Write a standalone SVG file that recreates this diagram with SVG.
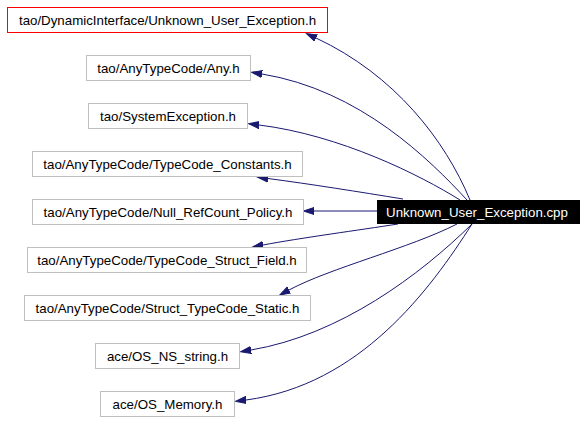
<svg xmlns="http://www.w3.org/2000/svg" width="587" height="421" viewBox="0 0 587 421">
<style>
.n rect{fill:#fff;stroke:#bfbfbf;stroke-width:1}
.n text{font-family:"Liberation Sans",Arial,sans-serif;font-size:13.3px;fill:#000;text-anchor:middle}
#n1 rect{stroke:#ff0000}
#main rect{fill:#000;stroke:#000}
#main text{fill:#fff}
.e path{fill:none;stroke:#191970;stroke-width:1;marker-end:url(#ah)}
</style>
<defs>
<marker id="ah" markerUnits="userSpaceOnUse" markerWidth="12" markerHeight="10" refX="0" refY="4" orient="auto" viewBox="0 -1 12 10">
<path d="M0,0.5 L10.5,4 L0,7.5 z" fill="#191970" stroke="#191970" stroke-width="1"/>
</marker>
</defs>
<rect width="587" height="421" fill="#fff"/>
<g class="e" id="edges">
<path d="M470,200 C445,140 395,75 316,38"/>
<path d="M467,200 C430,160 360,90 262,74"/>
<path d="M460,200 C420,175 340,135 259,125"/>
<path d="M403,199 C360,192 310,184 268,178.5"/>
<path d="M377,211 L314,211"/>
<path d="M398,224 C360,230 300,238 263,245"/>
<path d="M457,224 C410,248 330,268 289,290"/>
<path d="M472,224 C420,275 340,335 251,350"/>
<path d="M472,224 C430,290 360,385 246,400"/>
</g>
<g class="n" id="main"><rect x="377.5" y="200.5" width="202" height="23"/><text x="477" y="216.5">Unknown_User_Exception.cpp</text></g>
<g class="n" id="n1"><rect x="7.5" y="7.5" width="320" height="25"/><text x="167.5" y="24.5">tao/DynamicInterface/Unknown_User_Exception.h</text></g>
<g class="n" id="n2"><rect x="86.5" y="55.5" width="164" height="25"/><text x="168.5" y="72.5">tao/AnyTypeCode/Any.h</text></g>
<g class="n" id="n3"><rect x="88.5" y="103.5" width="159" height="25"/><text x="168" y="120.5">tao/SystemException.h</text></g>
<g class="n" id="n4"><rect x="32.5" y="151.5" width="270" height="25"/><text x="167.5" y="168.5">tao/AnyTypeCode/TypeCode_Constants.h</text></g>
<g class="n" id="n5"><rect x="32.5" y="199.5" width="271" height="25"/><text x="168" y="216.5">tao/AnyTypeCode/Null_RefCount_Policy.h</text></g>
<g class="n" id="n6"><rect x="27.5" y="247.5" width="279" height="25"/><text x="167" y="264.5">tao/AnyTypeCode/TypeCode_Struct_Field.h</text></g>
<g class="n" id="n7"><rect x="24.5" y="295.5" width="286" height="25"/><text x="167.5" y="312.5">tao/AnyTypeCode/Struct_TypeCode_Static.h</text></g>
<g class="n" id="n8"><rect x="95.5" y="343.5" width="144" height="25"/><text x="167.5" y="360.5">ace/OS_NS_string.h</text></g>
<g class="n" id="n9"><rect x="100.5" y="391.5" width="134" height="25"/><text x="167.5" y="408.5">ace/OS_Memory.h</text></g>
</svg>
